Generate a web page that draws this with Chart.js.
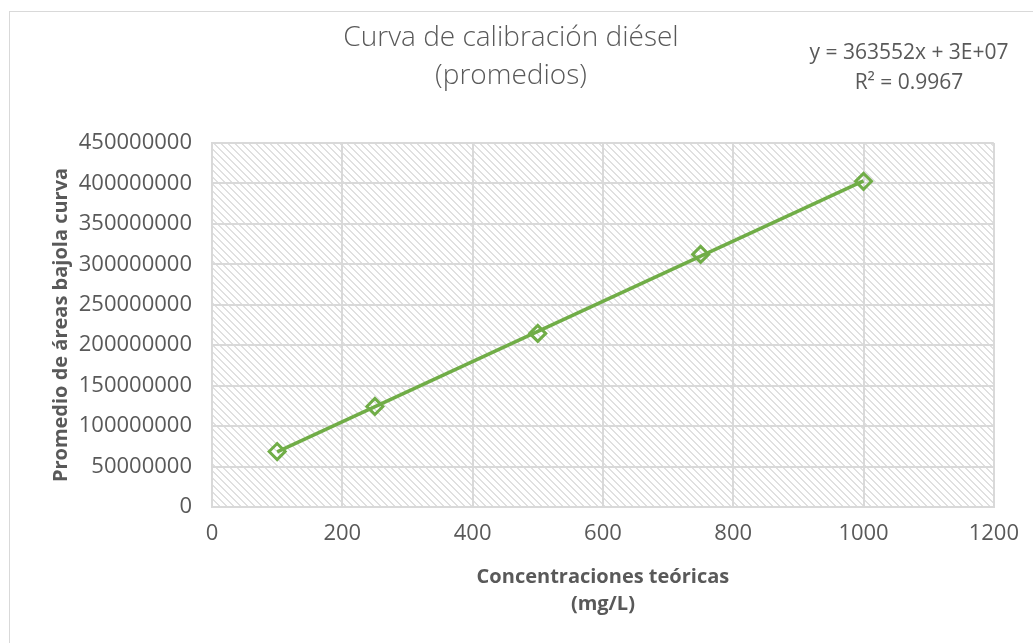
<!DOCTYPE html>
<html lang="es">
<head>
<meta charset="utf-8">
<title>Curva de calibración diésel</title>
<script src="https://cdn.jsdelivr.net/npm/chart.js@4.4.1/dist/chart.umd.min.js"></script>
<style>
    html, body { margin: 0; padding: 0; background: #fff; overflow: hidden; }
    #wrap { position: relative; width: 1033px; height: 643px; }
    #frame { position: absolute; left: 9px; top: 11px; width: 1100px; height: 700px; border: 1px solid #d9d9d9; box-sizing: border-box; }
    #chart { position: absolute; left: 0; top: 0; }
</style>
</head>
<body>
<div id="wrap">
    <div id="frame"></div>
    <canvas id="chart" width="1033" height="643"></canvas>
</div>
<script>
// data
const concentraciones = [100, 250, 500, 750, 1000];
const promedioAreas = [68600000, 124300000, 214600000, 312300000, 402600000];
const xTicks = [0, 200, 400, 600, 800, 1000, 1200];
const yTicks = [0, 50000000, 100000000, 150000000, 200000000, 250000000, 300000000, 350000000, 400000000, 450000000];
const titleLines = ['Curva de calibración diésel', '(promedios)'];
const equationLines = ['y = 363552x + 3E+07', 'R² = 0.9967'];

const GREEN = '#70ad47';
const TEXT = '#595959';
const GRID = '#d9d9d9';
const FONT = "'Open Sans', 'Noto Sans', sans-serif";

// linear trendline (least squares), as Excel draws it
function linearFit(xs, ys) {
    const n = xs.length;
    const mx = xs.reduce((a, b) => a + b, 0) / n;
    const my = ys.reduce((a, b) => a + b, 0) / n;
    let sxy = 0, sxx = 0;
    xs.forEach((x, i) => { sxy += (x - mx) * (ys[i] - my); sxx += (x - mx) * (x - mx); });
    const m = sxy / sxx;
    return { m, b: my - m * mx };
}
const fit = linearFit(concentraciones, promedioAreas);
const xFirst = concentraciones[0];
const xLast = concentraciones[concentraciones.length - 1];
const trendPoints = [
    { x: xFirst, y: fit.m * xFirst + fit.b },
    { x: xLast, y: fit.m * xLast + fit.b }
];

// hatched plot area (wide downward diagonal)
function makeHatch() {
    const c = document.createElement('canvas');
    c.width = 7; c.height = 7;
    const g = c.getContext('2d');
    g.fillStyle = '#fff';
    g.fillRect(0, 0, 7, 7);
    g.fillStyle = '#e0e0e0';
    for (let i = 0; i < 7; i++) {
        g.fillRect(i, i, 1, 1);
        g.fillRect((i + 1) % 7, i, 1, 1);
    }
    return g.createPattern(c, 'repeat');
}

const hatchPlugin = {
    id: 'hatch',
    beforeDraw(chart) {
        const { ctx, chartArea } = chart;
        ctx.save();
        ctx.fillStyle = makeHatch();
        ctx.fillRect(chartArea.left, chartArea.top, chartArea.right - chartArea.left, chartArea.bottom - chartArea.top);
        ctx.restore();
    }
};

const textPlugin = {
    id: 'headerText',
    afterDraw(chart) {
        const ctx = chart.ctx;
        ctx.save();
        ctx.fillStyle = TEXT;
        ctx.textAlign = 'center';
        ctx.textBaseline = 'middle';
        ctx.font = `300 28px ${FONT}`;
        titleLines.forEach((t, i) => ctx.fillText(t, 511, 38 + i * 38));
        ctx.font = `21px ${FONT}`;
        equationLines.forEach((t, i) => ctx.fillText(t, 909, 53 + i * 30));
        ctx.restore();
    }
};

new Chart(document.getElementById('chart'), {
    type: 'scatter',
    data: {
        datasets: [
            {
                label: 'Lineal',
                data: trendPoints,
                showLine: true,
                borderColor: GREEN,
                borderWidth: 3.5,
                pointRadius: 0,
                order: 0
            },
            {
                label: 'Promedio',
                data: concentraciones.map((x, i) => ({ x, y: promedioAreas[i] })),
                pointStyle: 'rectRot',
                pointRadius: 8,
                pointBorderWidth: 3,
                pointBorderColor: GREEN,
                pointBackgroundColor: 'rgba(255,255,255,0)',
                order: 1
            }
        ]
    },
    options: {
        responsive: false,
        animation: false,
        layout: { padding: { left: 47, top: 143, right: 38, bottom: 21 } },
        plugins: {
            legend: { display: false },
            tooltip: { enabled: false }
        },
        scales: {
            x: {
                type: 'linear',
                min: 0,
                max: 1200,
                afterBuildTicks: (s) => { s.ticks = xTicks.map(v => ({ value: v })); },
                afterFit: (s) => { s.height = 115; },
                grid: { color: GRID, lineWidth: 2, drawTicks: false },
                border: { color: GRID, width: 2 },
                ticks: {
                    padding: 14,
                    color: TEXT,
                    font: { family: FONT, size: 22 },
                    callback: (v) => String(v)
                },
                title: {
                    display: true,
                    text: ['Concentraciones teóricas', '(mg/L)'],
                    color: TEXT,
                    font: { family: FONT, size: 20, weight: 'bold', lineHeight: 1.35 },
                    padding: { top: 0, bottom: 4 }
                }
            },
            y: {
                type: 'linear',
                min: 0,
                max: 450000000,
                afterBuildTicks: (s) => { s.ticks = yTicks.map(v => ({ value: v })); },
                afterFit: (s) => { s.width = 165; },
                grid: { color: GRID, lineWidth: 2, drawTicks: false },
                border: { color: GRID, width: 2 },
                ticks: {
                    padding: 20,
                    color: TEXT,
                    font: { family: FONT, size: 22 },
                    callback: (v) => String(v)
                },
                title: {
                    display: true,
                    text: 'Promedio de áreas bajola curva',
                    color: TEXT,
                    font: { family: FONT, size: 20, weight: 'bold' },
                    padding: { top: 2, bottom: 0 }
                }
            }
        }
    },
    plugins: [hatchPlugin, textPlugin]
});
</script>
</body>
</html>
